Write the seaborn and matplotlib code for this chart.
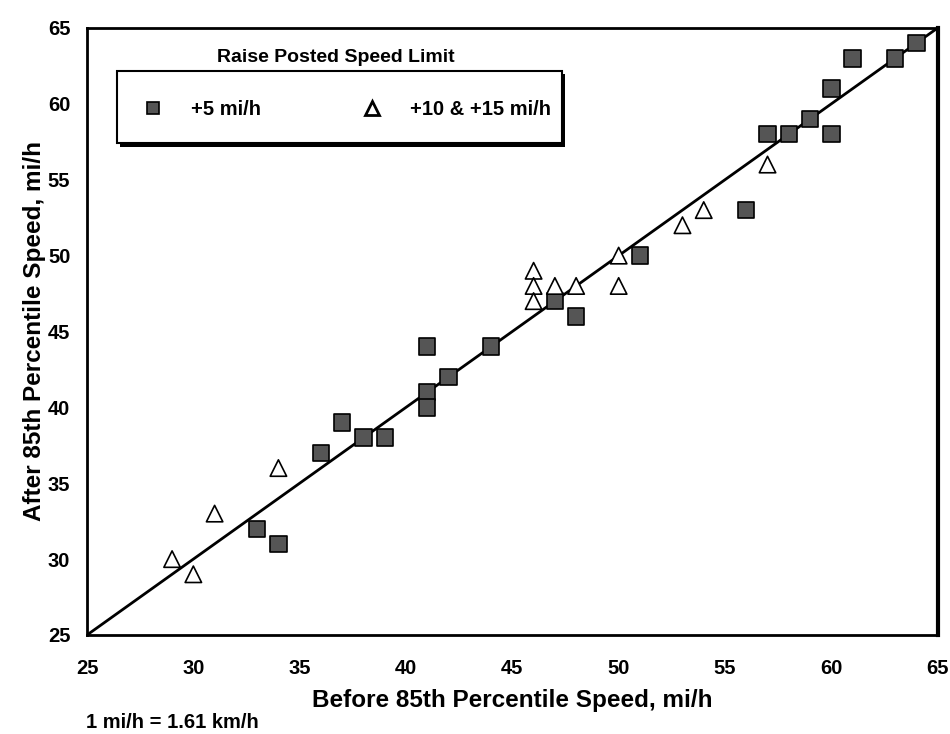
import numpy as np
import pandas as pd
import seaborn as sns
import matplotlib.pyplot as plt
from matplotlib.patches import Rectangle

# before / after 85th percentile speeds (mi/h)
before_5 = [33, 34, 36, 37, 38, 39, 41, 41, 41, 42, 44, 47, 48, 51, 56, 57, 58, 59, 60, 60, 61, 63, 64]
after_5 = [32, 31, 37, 39, 38, 38, 44, 41, 40, 42, 44, 47, 46, 50, 53, 58, 58, 59, 61, 58, 63, 63, 64]
before_10 = [29, 30, 31, 34, 46, 46, 46, 47, 48, 50, 50, 53, 54, 57]
after_10 = [30, 29, 33, 36, 49, 48, 47, 48, 48, 50, 48, 52, 53, 56]
groups = ["+5 mi/h", "+10 & +15 mi/h"]
ticks = [25, 30, 35, 40, 45, 50, 55, 60, 65]

df = pd.DataFrame({
    "before": before_5 + before_10,
    "after": after_5 + after_10,
    "group": [groups[0]] * len(before_5) + [groups[1]] * len(before_10),
})

sns.set_style("white")
plt.rcParams['font.family'] = ['Liberation Sans', 'DejaVu Sans']
plt.rcParams['font.weight'] = 'bold'
plt.rcParams['text.color'] = 'black'
plt.rcParams['axes.labelcolor'] = 'black'

fig = plt.figure(figsize=(9.5, 7.34), dpi=100)
ax = fig.add_axes([0.0916, 0.1349, 0.8954, 0.827])

# 45 degree line
ax.plot([25, 65], [25, 65], color="black", lw=2, zorder=1)

sns.scatterplot(data=df, x="before", y="after", hue="group", style="group",
                markers={groups[0]: "s", groups[1]: "^"},
                palette={groups[0]: "#555555", groups[1]: "white"},
                edgecolor="black", linewidth=1.2, s=140, ax=ax, zorder=3, legend=False)

ax.set_xlim(25, 65)
ax.set_ylim(25, 65)
ax.set_xticks(ticks)
ax.set_yticks(ticks)
ax.tick_params(axis="both", direction="inout", length=12, width=2, labelsize=14.5,
               colors="black", pad=6)
ax.tick_params(axis="x", pad=11)
for sp in ax.spines.values():
    sp.set_color("black")
    sp.set_linewidth(2)
ax.spines["right"].set_linewidth(3)

ax.set_xlabel("Before 85th Percentile Speed, mi/h", fontsize=17.5, fontweight="bold", labelpad=8)
ax.set_ylabel("After 85th Percentile Speed, mi/h", fontsize=17.5, fontweight="bold", labelpad=1)

# legend box with drop shadow
ax.add_patch(Rectangle((0.039, 0.8045), 0.523, 0.119, transform=ax.transAxes,
                       facecolor="black", edgecolor="none", zorder=4))
ax.add_patch(Rectangle((0.035, 0.8105), 0.523, 0.119, transform=ax.transAxes,
                       facecolor="white", edgecolor="black", lw=1.5, zorder=5))
h1 = plt.Line2D([], [], marker="s", ls="", color="#555555", mec="black", ms=9, mew=1.2)
h2 = plt.Line2D([], [], marker="^", ls="", color="white", mec="black", ms=10, mew=2)
leg = ax.legend([h1, h2], groups, ncol=2, loc="center left", bbox_to_anchor=(0.0658, 0.865),
                frameon=False, fontsize=14.5, handlelength=1, handletextpad=1.4,
                columnspacing=5.0, borderpad=0, borderaxespad=0)
leg.set_zorder(6)
ax.text(0.293, 0.952, "Raise Posted Speed Limit", transform=ax.transAxes,
        fontsize=14, fontweight="bold", ha="center", va="center")

fig.text(0.09, 0.008, "1 mi/h = 1.61 km/h", fontsize=14.5, fontweight="bold")

plt.savefig("out.png", dpi=100)
